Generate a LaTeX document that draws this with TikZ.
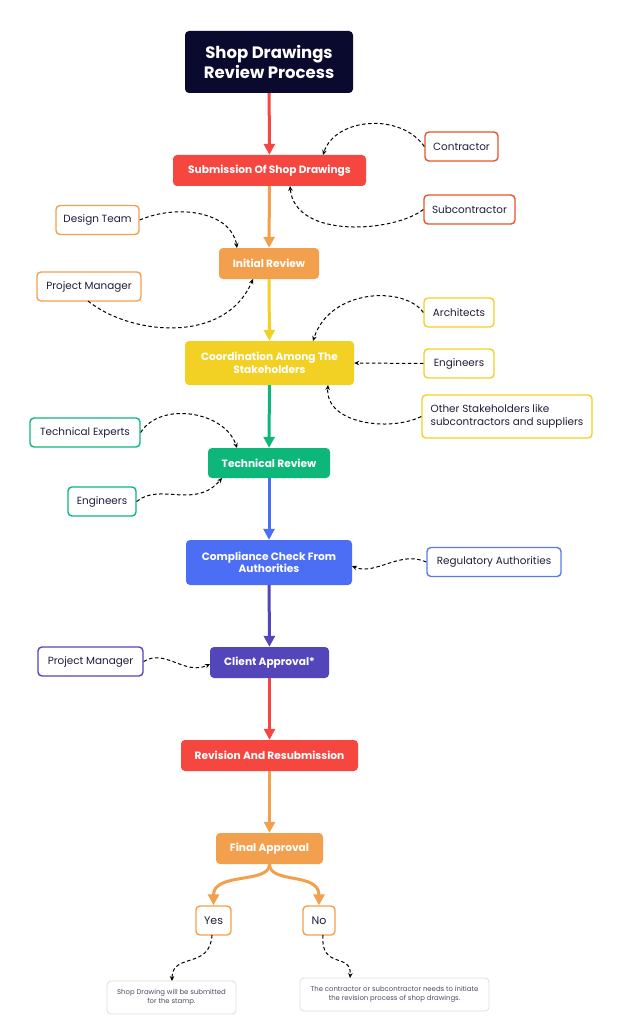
\documentclass[tikz,border=0pt]{standalone}
\usepackage{fontspec}
\setmainfont{Poppins}
\usetikzlibrary{arrows.meta}
\definecolor{navy}{HTML}{0A0A2E}
\definecolor{ink}{HTML}{1E1E3C}
\definecolor{cred}{HTML}{F5463F}
\definecolor{corange}{HTML}{F2A04E}
\definecolor{cyellow}{HTML}{F2D024}
\definecolor{cgreen}{HTML}{0DB77A}
\definecolor{cblue}{HTML}{4C6EF5}
\definecolor{cpurple}{HTML}{5346BA}
\definecolor{bred}{HTML}{E8542A}
\definecolor{bblue}{HTML}{5A7BE8}
\definecolor{lgray}{HTML}{DDDDDD}
\begin{document}
\begin{tikzpicture}[x=1pt,y=-1pt,
  mainbox/.style={rounded corners=4pt, text=white, font=\bfseries\fontsize{10.6}{12.5}\selectfont, align=center, inner sep=0pt},
  role/.style={draw, line width=1.4pt, rounded corners=4pt, fill=white, text=ink, font=\fontsize{10.4}{12.8}\selectfont, align=left, inner sep=0pt, minimum height=29pt},
  note/.style={draw=lgray, line width=0.8pt, rounded corners=4pt, fill=white, text=ink!80, font=\fontsize{6.9}{9}\selectfont, align=center, inner sep=0pt},
  flow/.style={line width=3pt, -{Triangle[length=11pt,width=11pt]}},
  dasharrow/.style={black, line width=1pt, dash pattern=on 3.5pt off 2.5pt, -{Stealth[length=5pt,width=4.5pt]}}
]
\useasboundingbox[fill=white] (0,0) rectangle (623,1024);

% main flow
\node[mainbox, fill=navy, minimum width=168pt, minimum height=62pt, font=\bfseries\fontsize{16.5}{20}\selectfont] (title) at (269,62) {Shop Drawings\\Review Process};
\node[mainbox, fill=cred, minimum width=193pt, minimum height=31pt] (sub) at (269.5,170.5) {Submission Of Shop Drawings};
\node[mainbox, fill=corange, minimum width=100pt, minimum height=31pt] (init) at (269,263.5) {Initial Review};
\node[mainbox, fill=cyellow, minimum width=169pt, minimum height=44pt] (coord) at (269.5,363) {Coordination Among The\\Stakeholders};
\node[mainbox, fill=cgreen, minimum width=122pt, minimum height=30pt] (tech) at (269,463) {Technical Review};
\node[mainbox, fill=cblue, minimum width=166pt, minimum height=45pt] (comp) at (269,562.5) {Compliance Check From\\Authorities};
\node[mainbox, fill=cpurple, minimum width=119pt, minimum height=31pt] (client) at (269.5,662.5) {Client Approval*};
\node[mainbox, fill=cred, minimum width=177pt, minimum height=31pt] (rev) at (269.5,755.5) {Revision And Resubmission};
\node[mainbox, fill=corange, minimum width=107pt, minimum height=31pt] (final) at (269.5,848.5) {Final Approval};

% side roles
\node[role, draw=bred, minimum width=73pt] (contr) at (461.5,146.5) {Contractor};
\node[role, draw=bred, minimum width=91pt] (subc) at (469.5,209.5) {Subcontractor};
\node[role, draw=corange, minimum width=83pt] (design) at (97.5,220) {Design Team};
\node[role, draw=corange, minimum width=104pt] (pm1) at (89,286.5) {Project Manager};
\node[role, draw=cyellow, minimum width=70pt] (arch) at (459,312.5) {Architects};
\node[role, draw=cyellow, minimum width=70pt] (engr) at (459,363.5) {Engineers};
\node[role, draw=cyellow, minimum width=170pt, minimum height=43pt] (other) at (507,416.5) {Other Stakeholders like\\subcontractors and suppliers};
\node[role, draw=cgreen, minimum width=110pt] (texp) at (85,432.5) {Technical Experts};
\node[role, draw=cgreen, minimum width=68pt] (engl) at (102,501.5) {Engineers};
\node[role, draw=bblue, minimum width=134pt] (reg) at (494,562) {Regulatory Authorities};
\node[role, draw=cpurple, minimum width=105pt] (pm2) at (90.5,661.5) {Project Manager};
\node[role, draw=corange, minimum width=35pt, font=\fontsize{11}{13}\selectfont] (yes) at (213.5,920.5) {Yes};
\node[role, draw=corange, minimum width=32pt, font=\fontsize{11}{13}\selectfont] (no) at (319,920.5) {No};
\node[note, minimum width=129pt, minimum height=33pt] (yesnote) at (171.5,997.5) {Shop Drawing will be submitted\\for the stamp.};
\node[note, minimum width=189pt, minimum height=33pt] (nonote) at (394.5,994.5) {The contractor or subcontractor needs to initiate\\the revision process of shop drawings.};

% main arrows
\draw[flow, cred] (title) -- (sub);
\draw[flow, corange] (sub) -- (init);
\draw[flow, cyellow] (init) -- (coord);
\draw[flow, cgreen] (coord) -- (tech);
\draw[flow, cblue] (tech) -- (comp);
\draw[flow, cpurple] (comp) -- (client);
\draw[flow, cred] (client) -- (rev);
\draw[flow, corange] (rev) -- (final);
\draw[flow, corange] (final.south) .. controls (269.5,884) and (213.5,872) .. (yes.north);
\draw[flow, corange] (final.south) .. controls (269.5,884) and (319,872) .. (no.north);

% dashed connectors
\coordinate (subTop) at (323,155);
\coordinate (subBot) at (290,186);
\coordinate (initTop) at (237,248);
\coordinate (initBot) at (253,279);
\coordinate (coordTop) at (313,341);
\coordinate (coordBot) at (328,385);
\coordinate (techTop) at (237,448);
\coordinate (techBot) at (222,478);
\coordinate (compR) at (352,566);
\coordinate (clientL) at (210,664);
\coordinate (pm1Bot) at (88,301);
\coordinate (yesBot) at (212,935);
\coordinate (noBot) at (323,935);
\coordinate (yesNoteTop) at (172,981);
\coordinate (noNoteTop) at (350,978);

\draw[dasharrow] (contr.west) .. controls (400,112) and (335,118) .. (subTop);
\draw[dasharrow] (subc.west) .. controls (395,232) and (295,240) .. (subBot);
\draw[dasharrow] (design.east) .. controls (180,203) and (232,213) .. (initTop);
\draw[dasharrow] (pm1Bot) .. controls (130,335) and (225,345) .. (initBot);
\draw[dasharrow] (arch.west) .. controls (405,286) and (330,288) .. (coordTop);
\draw[dasharrow] (engr.west) -- (coord.east);
\draw[dasharrow] (other.west) .. controls (390,432) and (325,424) .. (coordBot);
\draw[dasharrow] (texp.east) .. controls (160,401) and (225,411) .. (techTop);
\draw[dasharrow] (engl.east) .. controls (160,482) and (195,510) .. (techBot);
\draw[dasharrow] (reg.west) .. controls (400,550) and (375,576) .. (compR);
\draw[dasharrow] (pm2.east) .. controls (165,648) and (185,676) .. (clientL);
\draw[dasharrow] (yesBot) .. controls (210,970) and (172,952) .. (yesNoteTop);
\draw[dasharrow] (noBot) .. controls (320,970) and (352,952) .. (noNoteTop);
\end{tikzpicture}
\end{document}
